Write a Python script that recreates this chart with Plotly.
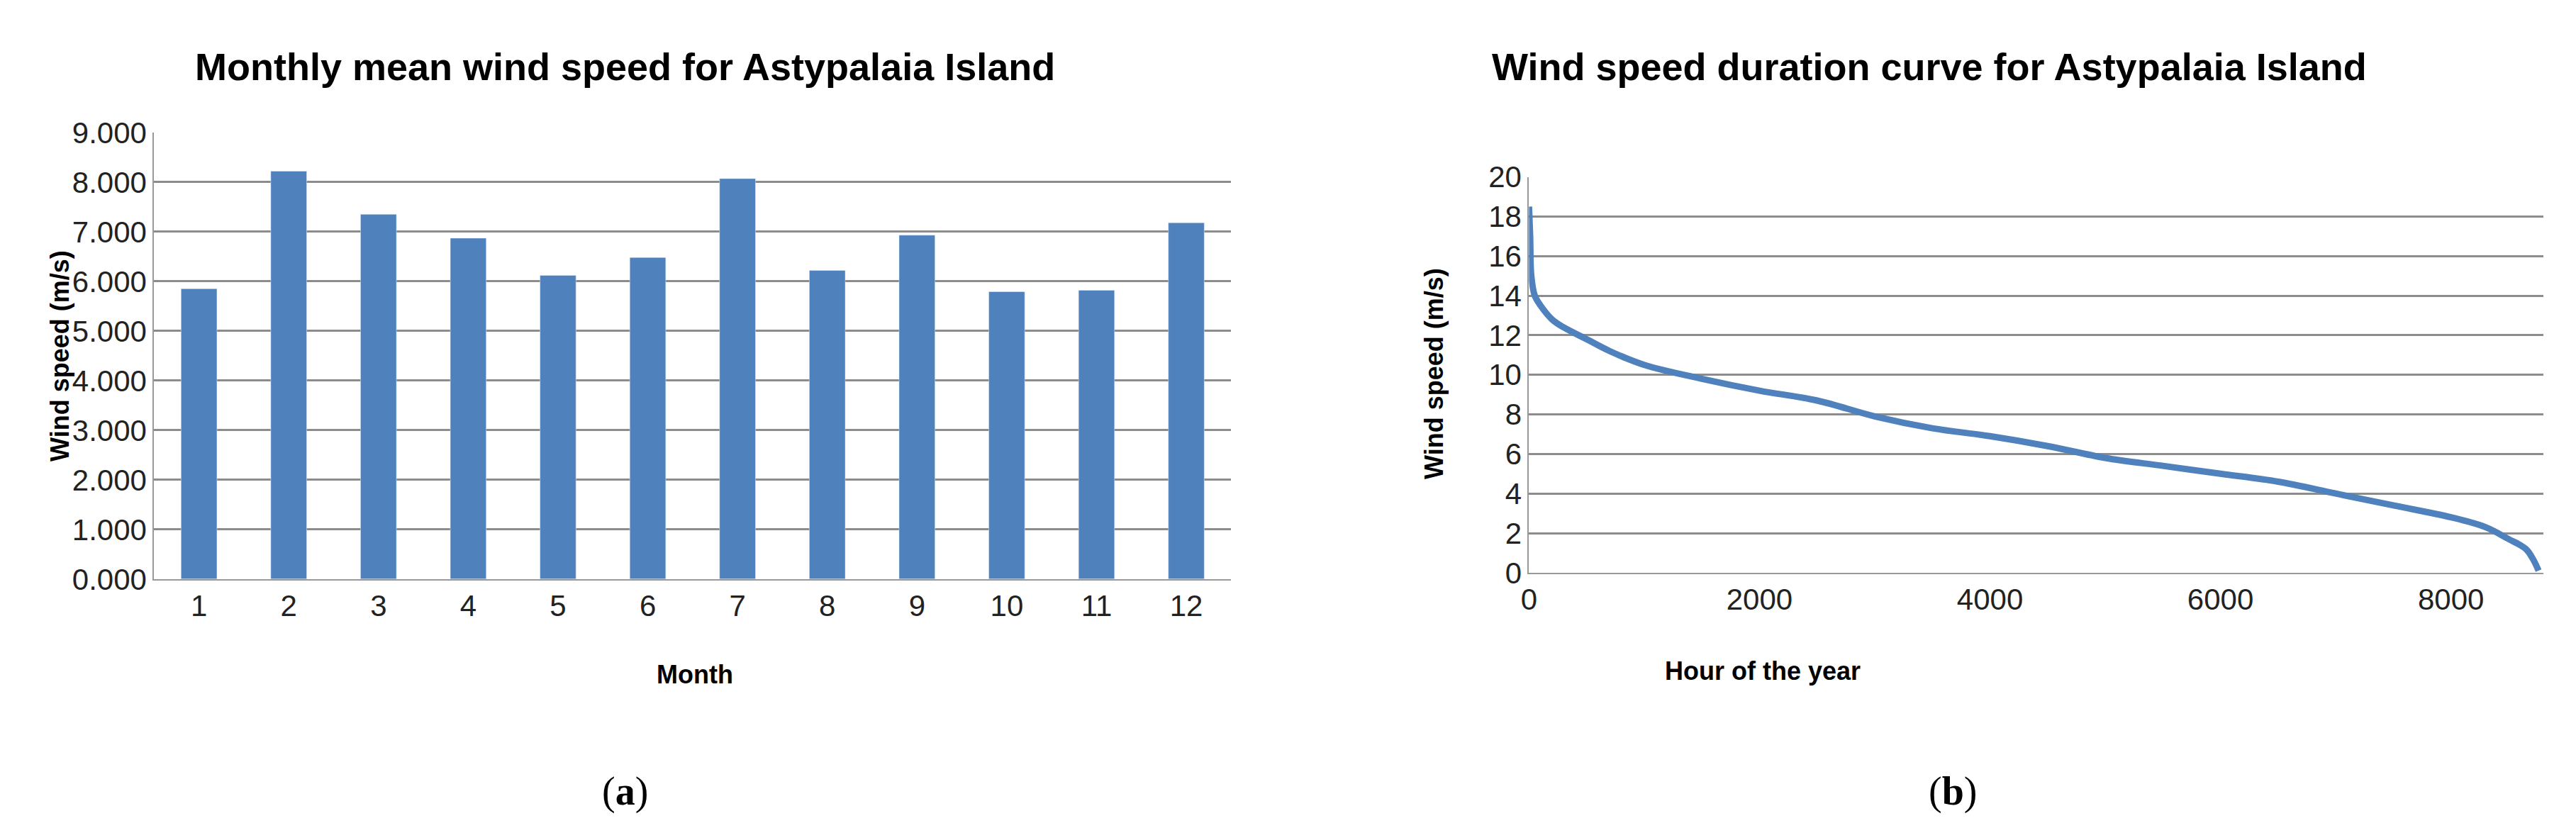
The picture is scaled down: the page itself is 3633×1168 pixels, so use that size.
import plotly.graph_objects as go

months = list(range(1, 13))
monthly_speed = [5.85, 8.22, 7.35, 6.87, 6.12, 6.48, 8.07, 6.22, 6.93, 5.79, 5.82, 7.18]

hours = [0, 10, 20, 50, 100, 200, 300, 500, 700, 1000, 1500, 2000, 2500, 3000, 3500,
         4000, 4500, 5000, 5500, 6000, 6500, 7000, 7500, 8000, 8300, 8500, 8650, 8720, 8760]
duration_speed = [18.5, 17.0, 15.0, 14.0, 13.5, 12.8, 12.4, 11.8, 11.2, 10.5, 9.8, 9.2, 8.7,
                  7.9, 7.3, 6.9, 6.4, 5.8, 5.4, 5.0, 4.6, 4.0, 3.4, 2.8, 2.3, 1.7, 1.2, 0.6, 0.1]

blue = "#4f81bd"
FONT = "Liberation Sans"
fig = go.Figure()
fig.add_trace(go.Bar(x=months, y=monthly_speed, marker_color=blue, width=0.4,
                     xaxis="x", yaxis="y"))
fig.add_trace(go.Scatter(x=hours, y=duration_speed, mode="lines", line=dict(color=blue, width=9, shape="spline"),
                         xaxis="x2", yaxis="y2"))

tf = dict(family=FONT, size=42, color="#222")
ax = dict(showgrid=False, ticks="", tickfont=tf, linecolor="#999", linewidth=2,
          showline=True, zeroline=False)
grid = dict(showgrid=True, gridcolor="#8c8c8c", gridwidth=3, ticks="", tickfont=tf,
            linecolor="#999", linewidth=2, showline=True, zeroline=False)

fig.update_layout(
    width=3633, height=1168, margin=dict(l=0, r=0, t=0, b=0),
    paper_bgcolor="white", plot_bgcolor="white", showlegend=False,
    xaxis=dict(ax, domain=[0.0545, 0.474], range=[0.5, 12.5], tickvals=months, anchor="y"),
    yaxis=dict(grid, domain=[0.299, 0.861], range=[0, 9], dtick=1, tickformat=".3f", anchor="x"),
    xaxis2=dict(ax, domain=[0.590, 0.985], range=[0, 8800], tickvals=[0, 2000, 4000, 6000, 8000], anchor="y2"),
    yaxis2=dict(grid, domain=[0.307, 0.805], range=[0, 20], dtick=2, anchor="x2"),
)
ann = [
    dict(text="<b>Monthly mean wind speed for Astypalaia Island</b>", x=0.238, y=0.944, size=54),
    dict(text="<b>Wind speed duration curve for Astypalaia Island</b>", x=0.746, y=0.944, size=54),
    dict(text="<b>Month</b>", x=0.265, y=0.179, size=36),
    dict(text="<b>Hour of the year</b>", x=0.681, y=0.183, size=36),
    dict(text="(<b>a</b>)", x=0.238, y=0.032, size=56, fam="Liberation Serif"),
    dict(text="(<b>b</b>)", x=0.755, y=0.032, size=56, fam="Liberation Serif"),
]
for a in ann:
    fig.add_annotation(text=a["text"], x=a["x"], y=a["y"], xref="paper", yref="paper",
                       showarrow=False, xanchor="center", yanchor="middle",
                       font=dict(family=a.get("fam", FONT), size=a["size"], color="black"))
for x, y in [(0.018, 0.58), (0.553, 0.558)]:
    fig.add_annotation(text="<b>Wind speed (m/s)</b>", x=x, y=y, xref="paper", yref="paper",
                       showarrow=False, textangle=-90, xanchor="center", yanchor="middle",
                       font=dict(family=FONT, size=36, color="black"))
fig.write_html("out.html")
